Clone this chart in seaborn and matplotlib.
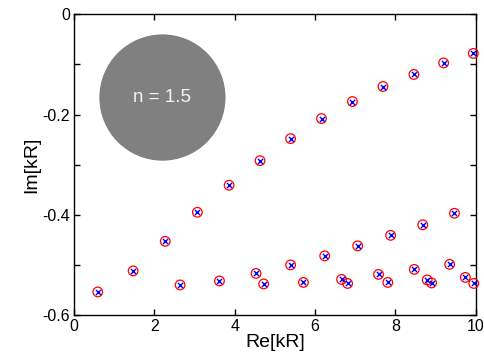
import matplotlib
matplotlib.use("Agg")
import matplotlib.pyplot as plt
import seaborn as sns
import numpy as np
import pandas as pd
from matplotlib.patches import Ellipse
from matplotlib.ticker import MultipleLocator, FuncFormatter

re_vals = [0.59, 1.47, 2.27, 2.64, 3.07, 3.62, 3.86, 4.53, 4.72, 4.63,
           5.39, 6.16, 6.93, 7.69, 8.46, 9.20, 9.94,
           5.39, 5.71, 6.24, 6.66, 6.81, 7.06, 7.58, 7.81, 7.88, 8.47,
           8.68, 8.79, 8.90, 9.35, 9.47, 9.74, 9.95]
im_vals = [-0.554, -0.512, -0.453, -0.540, -0.395, -0.532, -0.341, -0.517, -0.538, -0.292,
           -0.248, -0.208, -0.174, -0.144, -0.120, -0.097, -0.078,
           -0.500, -0.535, -0.482, -0.529, -0.537, -0.462, -0.519, -0.535, -0.441, -0.509,
           -0.420, -0.530, -0.536, -0.499, -0.397, -0.525, -0.537]
label_text = "n = 1.5"
x_label = "Re[kR]"
y_label = "Im[kR]"

df = pd.DataFrame({"re": re_vals, "im": im_vals})

sns.set_style("white")
plt.rcParams['font.family'] = ['Liberation Sans', 'DejaVu Sans']
plt.rcParams['text.color'] = 'black'
plt.rcParams['axes.labelcolor'] = 'black'
plt.rcParams['xtick.color'] = 'black'
plt.rcParams['ytick.color'] = 'black'

fig = plt.figure(figsize=(4.84, 3.64), dpi=100)
ax = fig.add_axes([0.153, 0.1346, 0.83, 0.826])

ax.add_patch(Ellipse((2.2, -0.166), 3.14, 0.252, facecolor='#808080', edgecolor='none', zorder=1))
ax.text(2.2, -0.166, label_text, color='#f2f2f2', fontsize=13.5, ha='center', va='center', zorder=2)

sns.scatterplot(data=df, x="re", y="im", marker='o', s=48, fc='none', ec='red', linewidth=0.9, ax=ax, zorder=3, clip_on=False)
sns.scatterplot(data=df, x="re", y="im", marker='x', s=14, color='blue', linewidth=1.0, ax=ax, zorder=4, clip_on=False)

ax.set_xlim(0, 10)
ax.set_ylim(-0.6, 0)
ax.xaxis.set_major_locator(MultipleLocator(2))
ax.yaxis.set_major_locator(MultipleLocator(0.2))
ax.yaxis.set_minor_locator(MultipleLocator(0.1))
ax.xaxis.set_major_formatter(FuncFormatter(lambda v, p: f"{v:g}"))
ax.yaxis.set_major_formatter(FuncFormatter(lambda v, p: "0" if abs(v) < 1e-9 else f"{v:.1f}"))
ax.tick_params(which='both', direction='in', top=True, right=True, bottom=True, left=True,
               length=4, width=1, labelsize=11.5, color='black', labelcolor='black', pad=3)
for s in ax.spines.values():
    s.set_visible(True)
    s.set_color('black')
    s.set_linewidth(1)
ax.set_xlabel(x_label, fontsize=14, labelpad=0, color='black')
ax.set_ylabel(y_label, fontsize=14, labelpad=1, color='black')

fig.savefig("out.png", dpi=100)
